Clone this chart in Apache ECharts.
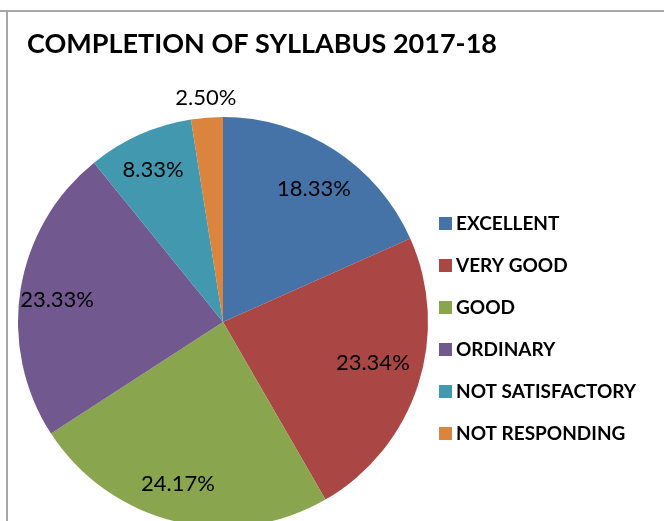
<!DOCTYPE html>
<html><head><meta charset="utf-8">
<script src="https://cdn.jsdelivr.net/npm/echarts@6/dist/echarts.min.js"></script>
<style>html,body{margin:0;padding:0;background:#fff}#c{width:664px;height:521px}</style>
</head><body><div id="c"></div>
<script>
const categories = ['EXCELLENT','VERY GOOD','GOOD','ORDINARY','NOT SATISFACTORY','NOT RESPONDING'];
const values = [18.33, 23.34, 24.17, 23.33, 8.33, 2.50];
const colors = ['#4572A7','#AA4643','#89A54E','#71588F','#4198AF','#DB843D'];
const titleText = 'COMPLETION OF SYLLABUS 2017-18';

const chart = echarts.init(document.getElementById('c'), null, {renderer:'canvas'});
const R = 205;
const labelOffsets = [[0,7],[-9,-11],[-6,0],[-1,4],[-2,0],[-4,-58]];
const baseData = categories.map((n,i)=>({name:n, value:values[i], itemStyle:{color:colors[i]}}));
const labelData = categories.map((n,i)=>({name:n, value:values[i], label:{offset:labelOffsets[i]}}));
chart.setOption({
  animation:false,
  title:{text:titleText, left:27, top:31, padding:0, textStyle:{fontFamily:'Lato', fontWeight:'bold', fontSize:27, color:'#000'}},
  legend:{orient:'vertical', left:439, top:214, padding:0, itemWidth:13, itemHeight:13, itemGap:23,
    icon:'rect', selectedMode:false, data:categories,
    textStyle:{fontFamily:'Lato', fontWeight:'bold', fontSize:19, color:'#000', padding:[0,0,0,-1]}},
  graphic:[
    {type:'line', shape:{x1:0,y1:11,x2:664,y2:11}, style:{stroke:'#a6a6a6', lineWidth:2}},
    {type:'line', shape:{x1:7,y1:11,x2:7,y2:521}, style:{stroke:'#a6a6a6', lineWidth:2}}
  ],
  series:[
    {type:'pie', center:[223,322], radius:[0,R], startAngle:90, clockwise:true,
     label:{show:false}, labelLine:{show:false}, emphasis:{disabled:true},
     itemStyle:{borderWidth:0}, data:baseData},
    {type:'pie', center:[223,322], radius:[Math.round(R*0.6),R], startAngle:90, clockwise:true,
     silent:true, emphasis:{disabled:true}, legendHoverLink:false,
     itemStyle:{color:'rgba(0,0,0,0)', borderWidth:0},
     label:{show:true, position:'inside', formatter:p=>p.value.toFixed(2)+'%',
       fontFamily:'Lato', fontSize:22, color:'#000'},
     labelLine:{show:false}, data:labelData}
  ]
});
</script></body></html>
